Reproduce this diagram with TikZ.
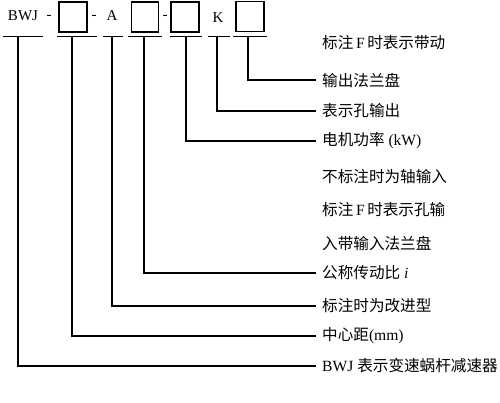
\documentclass[tikz,border=0pt]{standalone}
\usepackage{fontspec}
\setmainfont{Liberation Serif}
\newfontfamily\cjk{Noto Sans CJK SC}
\begin{document}
\begin{tikzpicture}[x=1pt,y=-1pt,
  field/.style={draw, line width=1.4pt, minimum width=28pt, minimum height=30pt, inner sep=0pt},
  code/.style={font=\fontsize{15}{15}\selectfont, inner sep=0pt},
  lab/.style={anchor=west, inner xsep=6pt, inner ysep=0pt, font=\fontsize{15.6}{15.6}\selectfont},
  uline/.style={line width=1.5pt},
  conn/.style={line width=1.3pt}]
\useasboundingbox (0,0) rectangle (500,403);
% code fields
\node[code] (bwj) at (23,16) {BWJ};
\node[code] (d1) at (49,17) {-};
\node[field] (f1) at (73,17) {};
\node[code] (d2) at (94,17) {-};
\node[code] (a) at (112,16) {A};
\node[field, minimum width=27pt] (f2) at (145,17) {};
\node[code] (d3) at (165,17) {-};
\node[field] (f3) at (185,17) {};
\node[code] (k) at (218,18) {K};
\node[field] (f4) at (250,16.5) {};
% underlines
\draw[uline] (3,36.5) -- (43,36.5);
\draw[uline] (57,36.5) -- (97,36.5);
\draw[uline] (103,36.5) -- (123,36.5);
\draw[uline] (128,36.5) -- (162,36.5);
\draw[uline] (170,36.5) -- (202,36.5);
\draw[uline] (208,36.5) -- (230,36.5);
\draw[uline] (233,36.5) -- (267,36.5);
\coordinate (u1) at (18,36.5);
\coordinate (u2) at (72,36.5);
\coordinate (u3) at (112,36.5);
\coordinate (u4) at (144,36.5);
\coordinate (u5) at (186,36.5);
\coordinate (u6) at (217,36.5);
\coordinate (u7) at (248,36.5);
% labels
\node[lab] (l1) at (316,43) {{\cjk 标注}\,F\,{\cjk 时表示带动}};
\node[lab] (l2) at (316,80) {{\cjk 输出法兰盘}};
\node[lab] (l3) at (316,111) {{\cjk 表示孔输出}};
\node[lab] (l4) at (316,141) {{\cjk 电机功率}\ (kW)};
\node[lab] (l5) at (316,177) {{\cjk 不标注时为轴输入}};
\node[lab] (l6) at (316,210) {{\cjk 标注}\,F\,{\cjk 时表示孔输}};
\node[lab] (l7) at (316,243) {{\cjk 入带输入法兰盘}};
\node[lab] (l8) at (316,273) {{\cjk 公称传动比}\ \textit{i}};
\node[lab] (l9) at (316,306) {{\cjk 标注时为改进型}};
\node[lab] (l10) at (316,336) {{\cjk 中心距}(mm)};
\node[lab] (l11) at (316,366) {BWJ\ {\cjk 表示变速蜗杆减速器}};
% connectors
\draw[conn] (u7) |- (l2.west);
\draw[conn] (u6) |- (l3.west);
\draw[conn] (u5) |- (l4.west);
\draw[conn] (u4) |- (l8.west);
\draw[conn] (u3) |- (l9.west);
\draw[conn] (u2) |- (l10.west);
\draw[conn] (u1) |- (l11.west);
\end{tikzpicture}
\end{document}
